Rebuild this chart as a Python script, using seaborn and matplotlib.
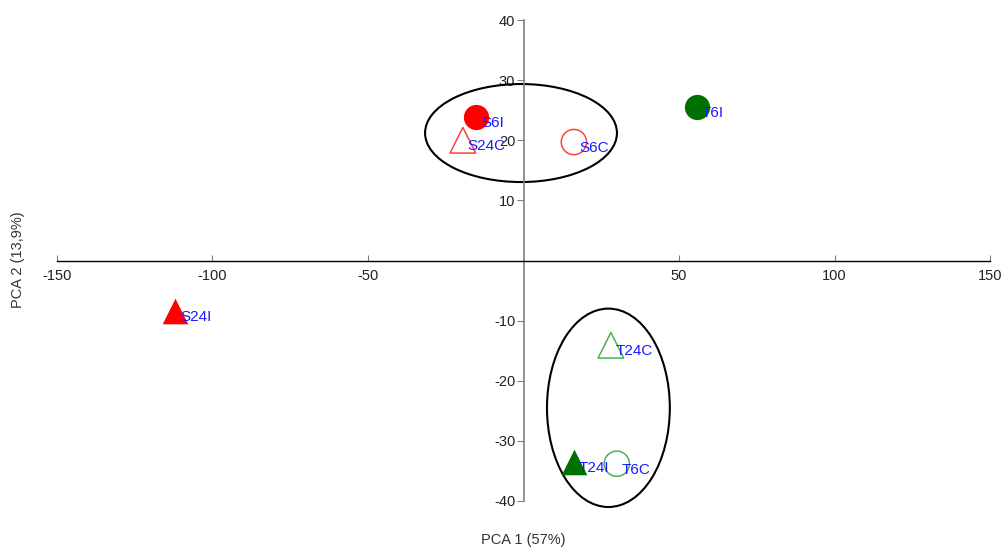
import matplotlib
matplotlib.use("Agg")
import matplotlib.pyplot as plt
from matplotlib.patches import Ellipse
import seaborn as sns
import pandas as pd

sns.set_style("white")
plt.rcParams['font.family'] = ['Liberation Sans', 'DejaVu Sans']
plt.rcParams['axes.unicode_minus'] = False

# Data
names = ["S6I", "S24C", "S6C", "T6I", "S24I", "T24C", "T24I", "T6C"]
pc1 = [-15.3, -19.5, 16.2, 55.8, -112.0, 28.1, 16.1, 30.0]
pc2 = [23.9, 20.0, 19.7, 25.5, -8.4, -14.1, -33.5, -33.8]
shapes = ["o", "^", "o", "o", "^", "^", "^", "o"]
filled = [True, False, False, True, True, False, True, False]
colors = ["#ff0000", "#ff4040", "#ff4040", "#007000", "#ff0000", "#4caf50", "#007000", "#4caf50"]

x_ticks = [-150, -100, -50, 50, 100, 150]
y_ticks = [-40, -30, -20, -10, 10, 20, 30, 40]

# ellipses: center x, center y, width, height
ell_cx = [-0.8, 27.3]
ell_cy = [21.2, -24.5]
ell_w = [61.7, 39.5]
ell_h = [16.3, 33.0]

df = pd.DataFrame({"name": names, "pc1": pc1, "pc2": pc2})

fig = plt.figure(figsize=(10.06, 5.48), dpi=100)
ax = fig.add_axes([57/1006, 47/548, (990-57)/1006, (501-20)/548])

for i in range(len(names)):
    sub = df.iloc[[i]]
    s = 330 if shapes[i] == "o" else 340
    if filled[i]:
        sns.scatterplot(data=sub, x="pc1", y="pc2", marker=shapes[i], s=s,
                        color=colors[i], linewidth=0, ax=ax, zorder=3, clip_on=False)
    else:
        sns.scatterplot(data=sub, x="pc1", y="pc2", marker=shapes[i], s=s,
                        facecolor="none", edgecolor=colors[i], linewidth=1.1, ax=ax, zorder=3,
                        clip_on=False)
    ax.annotate(names[i], (pc1[i], pc2[i]), xytext=(3.6, -4.3), textcoords="offset points",
                ha="left", va="center", color="#1a1aff", fontsize=11, zorder=4)

for cx, cy, w, h in zip(ell_cx, ell_cy, ell_w, ell_h):
    ax.add_patch(Ellipse((cx, cy), w, h, fill=False, edgecolor="black", linewidth=1.5,
                         zorder=2, clip_on=False))

ax.set_xlim(-150, 150)
ax.set_ylim(-40, 40)
ax.spines["left"].set_position(("data", 0))
ax.spines["bottom"].set_position(("data", 0))
ax.spines["right"].set_visible(False)
ax.spines["top"].set_visible(False)
ax.spines["left"].set_color("#808080")
ax.spines["left"].set_linewidth(1.2)
ax.spines["bottom"].set_color("black")
ax.spines["bottom"].set_linewidth(1.0)

ax.set_xticks(x_ticks)
ax.set_xticklabels([str(t) for t in x_ticks])
ax.set_yticks(y_ticks)
ax.set_yticklabels([str(t) for t in y_ticks])
ax.tick_params(axis="x", direction="in", length=4, color="#808080", labelsize=10.5,
               labelcolor="#222222", pad=6, bottom=True)
ax.tick_params(axis="y", direction="out", length=5, color="#808080", labelsize=10.5,
               labelcolor="#222222", pad=1, left=True)
ax.set_xlabel("")
ax.set_ylabel("")

fig.text(523.5/1006, 1 - 540/548, "PCA 1 (57%)", ha="center", va="center", fontsize=10.5, color="#333333")
fig.text(18/1006, 1 - 260/548, "PCA 2 (13,9%)", ha="center", va="center", rotation=90,
         fontsize=10.5, color="#333333")

fig.savefig("out.png", dpi=100)
